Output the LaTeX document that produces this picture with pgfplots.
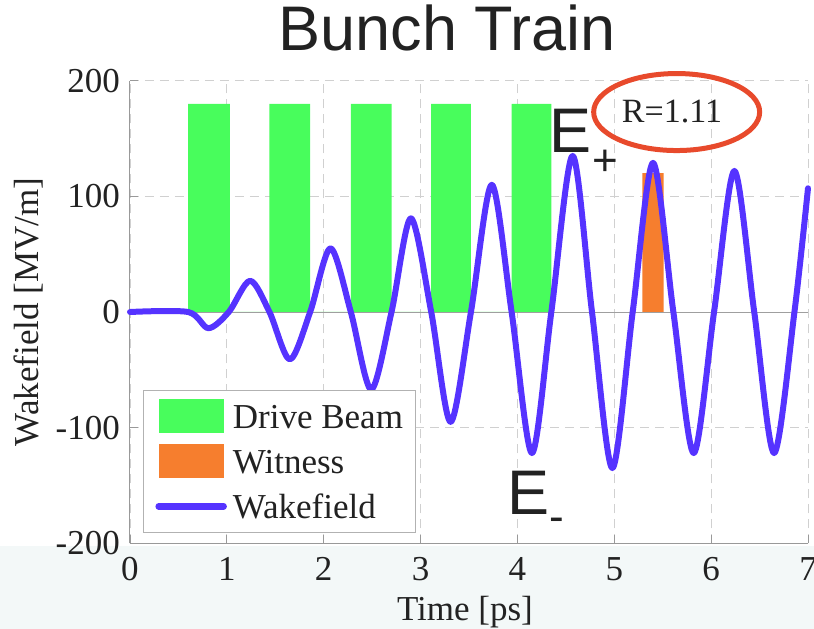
\documentclass[border=0pt]{standalone}
\usepackage{pgfplots}
\pgfplotsset{compat=1.18}
\usepackage{fontspec}
\setmainfont{Liberation Serif}
\newfontfamily\sansf{Liberation Sans}
\definecolor{dbgreen}{HTML}{48FD5C}
\definecolor{witorange}{HTML}{F67E2E}
\definecolor{wakeblue}{HTML}{5533FF}
\definecolor{ringred}{HTML}{E84A2C}
\definecolor{txt}{HTML}{222222}
\definecolor{gridgray}{HTML}{D0D0D0}
\definecolor{bgteal}{RGB}{243,248,248}
\begin{document}
\begin{tikzpicture}
\fill[bgteal] (-130pt,-85.7pt) rectangle (684pt,-3pt);
\begin{axis}[
  scale only axis, width=678pt, height=462.6pt,
  xmin=0, xmax=7, ymin=-200, ymax=200,
  xtick={0,1,2,3,4,5,6,7}, ytick={-200,-100,0,100,200},
  axis x line*=bottom, axis y line*=left,
  axis line style={gray!80, line width=1pt},
  tick style={gray!80, line width=0.8pt}, major tick length=8pt, tick align=inside,
  grid=major, major grid style={gridgray, line width=0.9pt, dash pattern=on 9pt off 6pt},
  /pgf/number format/assume math mode=true,
  tick label style={font=\fontsize{35}{40}\selectfont, text=txt},
  xticklabel style={anchor=base, yshift=-37pt},
  yticklabel style={anchor=east, inner sep=0pt, xshift=-10pt},
  label style={font=\fontsize{35}{40}\selectfont, text=txt},
  xlabel={Time [ps]},
  xlabel style={at={(axis description cs:0.494,0)}, anchor=base, yshift=-76.7pt, inner sep=0pt},
  ylabel={Wakefield [MV/m]},
  ylabel style={at={(axis description cs:-0.1504,0.5)}, anchor=center, inner sep=0pt},
  title={Bunch Train},
  title style={at={(axis description cs:0.468,1)}, anchor=base, yshift=24pt, inner sep=0pt, text=txt, font=\sansf\fontsize{63}{70}\selectfont},
  clip=false,
  legend cell align=left,
  legend style={at={(0.0192,0.0229)}, anchor=south west, draw=gray!60, line width=0.8pt, fill=white,
    font=\fontsize{35}{40}\selectfont, inner xsep=12pt, inner ysep=9pt, row sep=11pt, column sep=6pt,
    nodes={inner sep=0pt, text height=29pt, text depth=5pt, anchor=west, text=txt}},
]
% drive beam bunches
\addplot[fill=dbgreen, draw=none,
  legend image code/.code={\fill[dbgreen] (0pt,-17pt) rectangle (65pt,17pt);}]
  coordinates {(0.60,0)(0.60,180)(1.03,180)(1.03,0)
               (1.44,0)(1.44,180)(1.86,180)(1.86,0)
               (2.28,0)(2.28,180)(2.70,180)(2.70,0)
               (3.11,0)(3.11,180)(3.52,180)(3.52,0)
               (3.94,0)(3.94,180)(4.35,180)(4.35,0)} \closedcycle;
\addlegendentry{Drive Beam}
% witness bunch
\addplot[fill=witorange, draw=none,
  legend image code/.code={\fill[witorange] (0pt,-17pt) rectangle (65pt,17pt);}]
  coordinates {(5.29,0)(5.29,120)(5.51,120)(5.51,0)} \closedcycle;
\addlegendentry{Witness}
\draw[gray!75, line width=0.9pt] (axis cs:0,0) -- (axis cs:7,0);
% wakefield
\addplot[wakeblue, line width=6pt, smooth, line join=round, line cap=round,
  legend image code/.code={\draw[wakeblue, line width=6.5pt] (0pt,0pt) -- (65pt,0pt);}]
  coordinates {(0,0)(0.60,0)(0.81,-14)(1.02,0)(1.24,27)(1.44,0)(1.65,-41)(1.86,0)
    (2.07,55)(2.28,0)(2.49,-67)(2.70,0)(2.90,81)(3.11,0)(3.31,-95)(3.52,0)
    (3.735,110)(3.94,0)(4.15,-122)(4.35,0)(4.57,135)(4.77,0)(4.98,-135)(5.19,0)
    (5.40,129)(5.61,0)(5.82,-122)(6.03,0)(6.24,122)(6.445,0)(6.65,-122)(6.86,0)(7.0,107)};
\addlegendentry{Wakefield}
% annotations
\node[anchor=base west, inner sep=0pt, text=txt, font=\sansf\fontsize{63}{70}\selectfont] at (axis cs:4.33,137.5) {E};
\node[anchor=base west, inner sep=0pt, text=txt, font=\sansf\fontsize{44}{50}\selectfont] at (axis cs:4.773,117.7) {+};
\node[anchor=base west, inner sep=0pt, text=txt, font=\sansf\fontsize{63}{70}\selectfont] at (axis cs:3.897,-175) {E};
\node[anchor=base west, inner sep=0pt, text=txt, font=\sansf\fontsize{44}{50}\selectfont] at (axis cs:4.327,-189.7) {-};
\node[anchor=base west, inner sep=0pt, text=txt, font=\fontsize{34}{40}\selectfont] at (axis cs:5.077,163.5) {R=1.11};
\draw[ringred, line width=5pt] (axis cs:5.644,172.9) ellipse [x radius=83pt, y radius=38.5pt];
\end{axis}
\pgfresetboundingbox
\path[use as bounding box] (-130pt,-85.7pt) rectangle (684pt,543.3pt);
\end{tikzpicture}
\end{document}
